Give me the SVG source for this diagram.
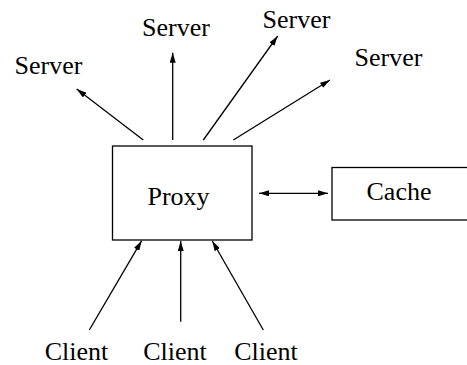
<svg xmlns="http://www.w3.org/2000/svg" width="467" height="365" viewBox="0 0 467 365">
<defs>
<marker id="ah" viewBox="0 0 10 6" refX="10" refY="3" markerWidth="10" markerHeight="6" markerUnits="userSpaceOnUse" orient="auto-start-reverse">
<path d="M0,0 L10,3 L0,6 Z" fill="#000"/>
</marker>
<style>
text{font-family:"Liberation Serif","Times New Roman",serif;font-size:26px;fill:#000}
.box{fill:#fff;stroke:#000;stroke-width:1.3}
.c{stroke:#000;stroke-width:1.3;fill:none}
</style>
</defs>
<rect width="467" height="365" fill="#fff"/>
<g id="connectors">
<line class="c" x1="143.3" y1="140" x2="76.7" y2="89" marker-end="url(#ah)"/>
<line class="c" x1="172.7" y1="140" x2="172.7" y2="52.7" marker-end="url(#ah)"/>
<line class="c" x1="203.3" y1="140" x2="277.7" y2="36" marker-end="url(#ah)"/>
<line class="c" x1="233.3" y1="140" x2="330" y2="80" marker-end="url(#ah)"/>
<line class="c" x1="259" y1="193.3" x2="328" y2="193.3" marker-start="url(#ah)" marker-end="url(#ah)"/>
<line class="c" x1="89.3" y1="330" x2="141.7" y2="240.7" marker-end="url(#ah)"/>
<line class="c" x1="180.7" y1="321.7" x2="180.7" y2="241" marker-end="url(#ah)"/>
<line class="c" x1="263.3" y1="330" x2="212.3" y2="241" marker-end="url(#ah)"/>
</g>
<g id="proxy">
<rect class="box" x="112.5" y="146" width="139.5" height="94"/>
<text x="178.5" y="205" text-anchor="middle">Proxy</text>
</g>
<g id="cache">
<rect class="box" x="332" y="167.5" width="140" height="52.5"/>
<text x="399" y="200" text-anchor="middle">Cache</text>
</g>
<g id="server1"><text x="48.5" y="74" text-anchor="middle">Server</text></g>
<g id="server2"><text x="176" y="36" text-anchor="middle">Server</text></g>
<g id="server3"><text x="296.5" y="28" text-anchor="middle">Server</text></g>
<g id="server4"><text x="388.5" y="66" text-anchor="middle">Server</text></g>
<g id="client1"><text x="76.5" y="360" text-anchor="middle">Client</text></g>
<g id="client2"><text x="175" y="360" text-anchor="middle">Client</text></g>
<g id="client3"><text x="266" y="360" text-anchor="middle">Client</text></g>
</svg>
